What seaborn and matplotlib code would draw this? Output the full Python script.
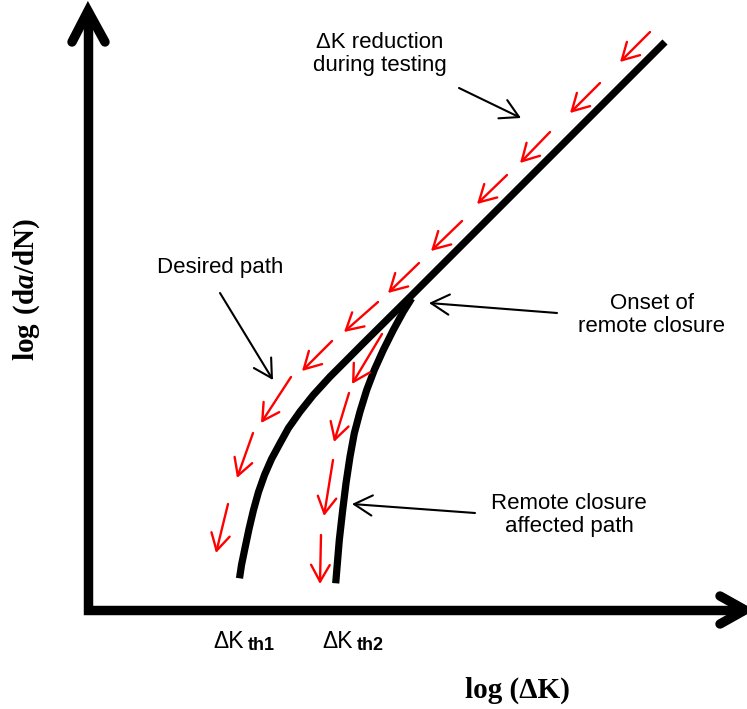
import matplotlib
matplotlib.use("Agg")
import matplotlib.pyplot as plt
import numpy as np
import pandas as pd
import seaborn as sns

# Schematic coordinates (x grows right, y grows downward on the sheet)
# Paris line plus the low-ΔK "desired" branch
desired_x = [665, 410, 363.3, 346.7, 330, 313.3, 300, 288.3, 280, 271.5, 264.5, 258.5,
             253.5, 249, 245, 241.5, 239.5]
desired_y = [42, 297, 343.3, 360, 376.7, 395, 411.7, 428.3, 443.3, 459, 475, 492,
             510, 529, 548, 565, 578.3]

# Branch influenced by remote closure
remote_x = [411.7, 403.3, 393.3, 383.3, 374.3, 366.7, 360, 354.3, 350, 346, 342.7, 339.3, 335.7]
remote_y = [298.3, 311.7, 330, 350, 370, 390, 411.7, 433.3, 456.7, 483.3, 510, 540, 583.3]

# Red load-shedding arrows: tail -> head
shed_tail_x = [650, 600, 550, 507, 462, 419, 378, 332, 291, 253, 228, 382, 349, 333, 321]
shed_tail_y = [32, 83, 132, 175, 221, 263, 302, 341, 377, 433, 504, 334, 393, 460, 535]
shed_head_x = [620, 570, 520, 477, 431, 388, 344, 302, 261, 237, 216, 352, 334, 324, 320]
shed_head_y = [62, 113, 163, 204, 251, 293, 332, 371, 423, 478, 553, 384, 442, 516, 584]

# Callout texts and their pointer arrows
note_text = ["ΔK reduction\nduring testing", "Desired path",
             "Onset of\nremote closure", "Remote closure\naffected path"]
note_x = [380, 220, 652, 569]
note_y = [54, 268, 315, 515]
ptr_tail_x = [459, 220, 557, 475]
ptr_tail_y = [88, 293, 313, 513]
ptr_head_x = [521, 273, 429, 352]
ptr_head_y = [118, 380, 303, 504]

# Threshold labels under the abscissa
th_sub = ["th1", "th2"]
th_x = [213, 322]

W, H = 747, 709

sns.set_theme(style="white")
plt.rcParams["font.family"] = ["Liberation Sans", "DejaVu Sans"]
plt.rcParams["text.color"] = "black"
plt.rcParams["mathtext.fontset"] = "custom"
plt.rcParams["mathtext.rm"] = "Liberation Serif"
plt.rcParams["mathtext.bf"] = "Liberation Serif:bold"
plt.rcParams["mathtext.bfit"] = "Liberation Serif:italic:bold"

fig = plt.figure(figsize=(W / 100, H / 100), dpi=100)
ax = fig.add_axes([0, 0, 1, 1])
ax.set_xlim(0, W)
ax.set_ylim(H, 0)
ax.axis("off")

# Coordinate axes with arrowheads
ax.plot([88, 88, 744], [12, 610, 610], color="black", lw=6.8,
        solid_joinstyle="miter", solid_capstyle="butt")
ax.plot([72, 88, 105], [42, 11, 42], color="black", lw=6.8,
        solid_joinstyle="miter", solid_capstyle="round")
ax.plot([720, 745, 720], [596, 610, 624], color="black", lw=6.8,
        solid_joinstyle="miter", solid_capstyle="round")

# Crack growth curves
curves = pd.concat([
    pd.DataFrame({"x": desired_x, "y": desired_y, "path": "desired"}),
    pd.DataFrame({"x": remote_x, "y": remote_y, "path": "remote"}),
])
n_before = len(ax.lines)
sns.lineplot(data=curves, x="x", y="y", units="path", estimator=None, sort=False,
             color="black", lw=5.2, ax=ax, legend=False)
for line in ax.lines[n_before:]:
    line.set_solid_capstyle("butt")
    line.set_solid_joinstyle("round")

# Load-shedding direction arrows
head = "->,head_length=0.5,head_width=0.28"
for tx, ty, hx, hy in zip(shed_tail_x, shed_tail_y, shed_head_x, shed_head_y):
    ax.annotate("", xy=(hx, hy), xytext=(tx, ty),
                arrowprops=dict(arrowstyle=head, color="#ff0000", lw=1.7,
                                mutation_scale=24, shrinkA=0, shrinkB=0))

# Callouts
for txt, x, y in zip(note_text, note_x, note_y):
    ax.text(x, y, txt, ha="center", va="center", fontsize=16,
            linespacing=1.15, color="black")
for tx, ty, hx, hy in zip(ptr_tail_x, ptr_tail_y, ptr_head_x, ptr_head_y):
    ax.annotate("", xy=(hx, hy), xytext=(tx, ty),
                arrowprops=dict(arrowstyle=head, color="black", lw=1.5,
                                mutation_scale=26, shrinkA=0, shrinkB=0))

# Threshold labels
for sub, x in zip(th_sub, th_x):
    ax.text(x, 641, "ΔK", ha="left", va="center", fontsize=16.5, color="black")
    ax.text(x + 35, 646, sub, ha="left", va="center", fontsize=13,
            fontweight="bold", color="black")

# Axis titles
ax.text(517, 690, "log (ΔK)", ha="center", va="center", fontsize=21,
        fontweight="bold", color="black", family=["Liberation Serif", "DejaVu Serif"])
ax.text(27, 290, r"$\mathbf{log\ (d}\mathbfit{a}\mathbf{/dN)}$", ha="center", va="center",
        fontsize=21, rotation=90, color="black")

fig.savefig("out.png", dpi=100, facecolor="white")
